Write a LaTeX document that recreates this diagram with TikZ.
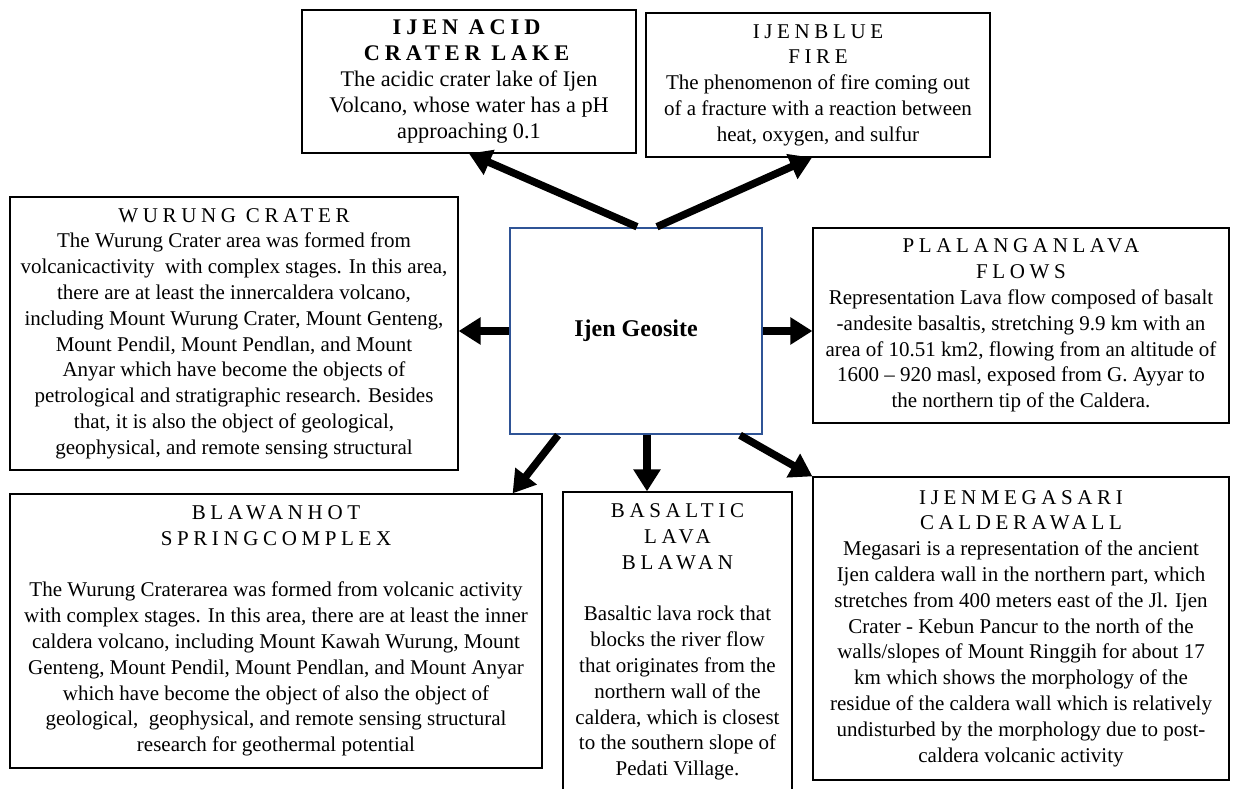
\documentclass[tikz,border=0pt]{standalone}
\usepackage{fontspec}
\setmainfont{Liberation Serif}
\usetikzlibrary{arrows.meta}
\definecolor{geoblue}{RGB}{47,84,150}
\newcommand{\spaced}[1]{{\addfontfeature{LetterSpace=22}#1}}

\begin{document}
\begin{tikzpicture}
  [x=1pt,y=-1pt,
   every node/.style={draw,line width=1.2pt,align=center,inner sep=0pt,
     font=\fontsize{21}{25.8}\selectfont},
   arr/.style={line width=7.5pt,-{Triangle[length=22pt,width=26pt]}}]
  \useasboundingbox (0,0) rectangle (1233,789);
  \clip (0,0) rectangle (1233,789);
  \fill[white] (0,0) rectangle (1233,789);

  \node[minimum width=252pt,minimum height=206pt,draw=geoblue,line width=2.5pt,
    font=\fontsize{24}{28}\selectfont\bfseries] (geo) at (636,331) {Ijen Geosite};

  \node[minimum width=334pt,minimum height=143pt,font=\fontsize{22.3}{25.8}\selectfont] (acid) at (469,81.5)
    {\textbf{\spaced{IJEN ACID}}\\\textbf{\spaced{CRATER LAKE}}\\
     The acidic crater lake of Ijen\\
     Volcano, whose water has a pH\\
     approaching 0.1};
  \node[minimum width=344pt,minimum height=144pt] (fire) at (818,85)
    {\spaced{IJENBLUE}\\\spaced{FIRE}\\
     The phenomenon of fire coming out\\
     of a fracture with a reaction between\\
     heat, oxygen, and sulfur};
  \node[minimum width=448pt,minimum height=273pt] (wurung) at (234,333.5)
    {\spaced{WURUNG CRATER}\\
     The Wurung Crater area was formed from\\
     volcanicactivity\ \ with complex stages. In this area,\\
     there are at least the innercaldera volcano,\\
     including Mount Wurung Crater, Mount Genteng,\\
     Mount Pendil, Mount Pendlan, and Mount\\
     Anyar which have become the objects of\\
     petrological and stratigraphic research. Besides\\
     that, it is also the object of geological,\\
     geophysical, and remote sensing structural};
  \node[minimum width=416pt,minimum height=195pt] (plal) at (1021,325.5)
    {\spaced{PLALANGANLAVA}\\\spaced{FLOWS}\\
     Representation Lava flow composed of basalt\\
     -andesite basaltis, stretching 9.9 km with an\\
     area of 10.51 km2, flowing from an altitude of\\
     1600 -- 920 masl, exposed from G. Ayyar to\\
     the northern tip of the Caldera.};
  \node[minimum width=532pt,minimum height=274pt] (blawan) at (276,631)
    {\spaced{BLAWANHOT}\\\spaced{SPRINGCOMPLEX}\\[25.8pt]
     The Wurung Craterarea was formed from volcanic activity\\
     with complex stages. In this area, there are at least the inner\\
     caldera volcano, including Mount Kawah Wurung, Mount\\
     Genteng, Mount Pendil, Mount Pendlan, and Mount Anyar\\
     which have become the object of also the object of\\
     geological,\ \ geophysical, and remote sensing structural\\
     research for geothermal potential};
  \node[minimum width=229pt,minimum height=300pt] (basalt) at (677.5,642)
    {\spaced{BASALTIC}\\\spaced{LAVA}\\\spaced{BLAWAN}\\[25.8pt]
     Basaltic lava rock that\\
     blocks the river flow\\
     that originates from the\\
     northern wall of the\\
     caldera, which is closest\\
     to the southern slope of\\
     Pedati Village.};
  \node[minimum width=416pt,minimum height=303pt] (mega) at (1021,628.5)
    {\spaced{IJENMEGASARI}\\\spaced{CALDERAWALL}\\
     Megasari is a representation of the ancient\\
     Ijen caldera wall in the northern part, which\\
     stretches from 400 meters east of the Jl. Ijen\\
     Crater - Kebun Pancur to the north of the\\
     walls/slopes of Mount Ringgih for about 17\\
     km which shows the morphology of the\\
     residue of the caldera wall which is relatively\\
     undisturbed by the morphology due to post-\\
     caldera volcanic activity};

  \draw[arr] ([xshift=1pt]geo.north) -- (acid.south);
  \draw[arr] ([xshift=21pt]geo.north) -- ([xshift=-6pt]fire.south);
  \draw[arr] (geo.west) -- (geo.west -| wurung.east);
  \draw[arr] (geo.east) -- (geo.east -| plal.west);
  \draw[arr] ([xshift=-78pt]geo.south) -- ([xshift=-30pt]blawan.north east);
  \draw[arr] ([xshift=11pt]geo.south) -- ([xshift=11pt]geo.south |- basalt.north);
  \draw[arr] ([xshift=104pt]geo.south) -- (mega.north west);

\end{tikzpicture}
\end{document}
